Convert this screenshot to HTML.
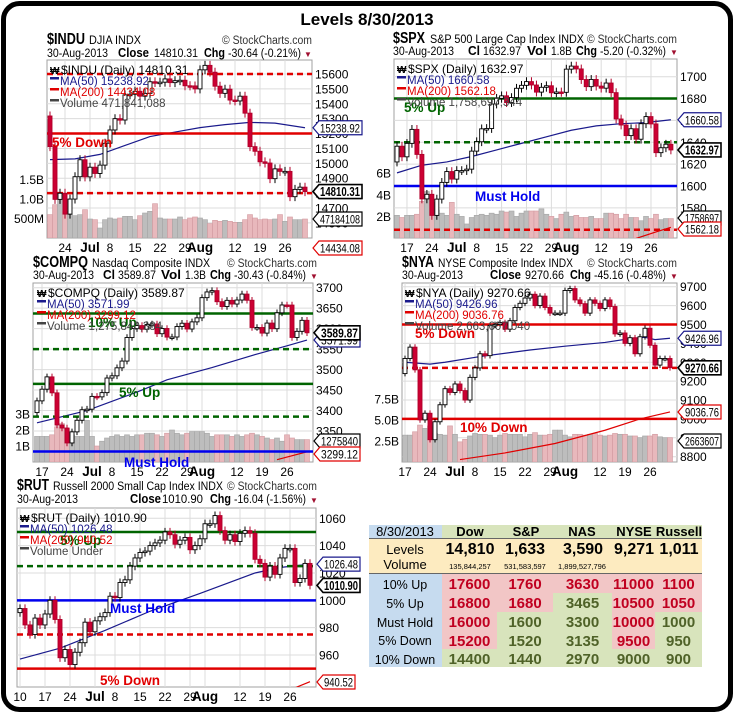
<!DOCTYPE html>
<html><head><meta charset="utf-8"><title>Levels 8/30/2013</title>
<style>
html,body{margin:0;padding:0;background:#fff;}
svg{display:block;font-family:"Liberation Sans",Arial,sans-serif;}
</style></head>
<body>
<svg id="chart" width="735" height="715" viewBox="0 0 735 715" xmlns="http://www.w3.org/2000/svg">
<rect x="3.5" y="3.5" width="727" height="706" rx="16" fill="#fff" stroke="#000" stroke-width="5"/>
<text x="367" y="25" font-size="17" font-weight="bold" text-anchor="middle">Levels 8/30/2013</text>

<!-- headers -->
<g font-size="11.5">
<text x="47" y="44" font-size="16" font-weight="bold" textLength="38" lengthAdjust="spacingAndGlyphs">$INDU</text>
<text x="89" y="44" textLength="52" lengthAdjust="spacingAndGlyphs">DJIA  INDX</text>
<text x="222" y="44" fill="#333" textLength="90" lengthAdjust="spacingAndGlyphs">© StockCharts.com</text>
<text x="47" y="57" textLength="61" lengthAdjust="spacingAndGlyphs">30-Aug-2013</text>
<text x="118" y="57" font-weight="bold" font-size="12.5" textLength="31" lengthAdjust="spacingAndGlyphs">Close</text>
<text x="154" y="57" textLength="44" lengthAdjust="spacingAndGlyphs">14810.31</text>
<text x="204" y="57" font-weight="bold" font-size="12.5" textLength="21" lengthAdjust="spacingAndGlyphs">Chg</text>
<text x="228" y="57" textLength="73" lengthAdjust="spacingAndGlyphs">-30.64 (-0.21%)</text>
<text x="304" y="57" fill="#a01030" font-size="8">▼</text>
</g>
<g font-size="11.5">
<text x="393" y="43" font-size="16" font-weight="bold" textLength="32" lengthAdjust="spacingAndGlyphs">$SPX</text>
<text x="430" y="43" textLength="154" lengthAdjust="spacingAndGlyphs">S&amp;P 500 Large Cap Index  INDX</text>
<text x="587" y="43" fill="#333" textLength="90" lengthAdjust="spacingAndGlyphs">© StockCharts.com</text>
<text x="393" y="55" textLength="61" lengthAdjust="spacingAndGlyphs">30-Aug-2013</text>
<text x="468" y="55" font-weight="bold" font-size="12.5" textLength="12" lengthAdjust="spacingAndGlyphs">Cl</text>
<text x="483" y="55" textLength="38" lengthAdjust="spacingAndGlyphs">1632.97</text>
<text x="527" y="55" font-weight="bold" font-size="12.5" textLength="20" lengthAdjust="spacingAndGlyphs">Vol</text>
<text x="551" y="55" textLength="21" lengthAdjust="spacingAndGlyphs">1.8B</text>
<text x="576" y="55" font-weight="bold" font-size="12.5" textLength="21" lengthAdjust="spacingAndGlyphs">Chg</text>
<text x="600" y="55" textLength="66" lengthAdjust="spacingAndGlyphs">-5.20 (-0.32%)</text>
<text x="670" y="55" fill="#a01030" font-size="8">▼</text>
</g>
<g font-size="11.5">
<text x="33" y="267" font-size="16" font-weight="bold" textLength="55" lengthAdjust="spacingAndGlyphs">$COMPQ</text>
<text x="92" y="267" textLength="118" lengthAdjust="spacingAndGlyphs">Nasdaq Composite  INDX</text>
<text x="227" y="267" fill="#333" textLength="90" lengthAdjust="spacingAndGlyphs">© StockCharts.com</text>
<text x="33" y="279" textLength="61" lengthAdjust="spacingAndGlyphs">30-Aug-2013</text>
<text x="103" y="279" font-weight="bold" font-size="12.5" textLength="12" lengthAdjust="spacingAndGlyphs">Cl</text>
<text x="118" y="279" textLength="38" lengthAdjust="spacingAndGlyphs">3589.87</text>
<text x="161" y="279" font-weight="bold" font-size="12.5" textLength="20" lengthAdjust="spacingAndGlyphs">Vol</text>
<text x="185" y="279" textLength="21" lengthAdjust="spacingAndGlyphs">1.3B</text>
<text x="210" y="279" font-weight="bold" font-size="12.5" textLength="21" lengthAdjust="spacingAndGlyphs">Chg</text>
<text x="234" y="279" textLength="72" lengthAdjust="spacingAndGlyphs">-30.43 (-0.84%)</text>
<text x="310" y="279" fill="#a01030" font-size="8">▼</text>
</g>
<g font-size="11.5">
<text x="402" y="267" font-size="16" font-weight="bold" textLength="32" lengthAdjust="spacingAndGlyphs">$NYA</text>
<text x="438" y="267" textLength="135" lengthAdjust="spacingAndGlyphs">NYSE Composite Index  INDX</text>
<text x="587" y="267" fill="#333" textLength="90" lengthAdjust="spacingAndGlyphs">© StockCharts.com</text>
<text x="402" y="279" textLength="61" lengthAdjust="spacingAndGlyphs">30-Aug-2013</text>
<text x="490" y="279" font-weight="bold" font-size="12.5" textLength="31" lengthAdjust="spacingAndGlyphs">Close</text>
<text x="525" y="279" textLength="39" lengthAdjust="spacingAndGlyphs">9270.66</text>
<text x="570" y="279" font-weight="bold" font-size="12.5" textLength="21" lengthAdjust="spacingAndGlyphs">Chg</text>
<text x="594" y="279" textLength="72" lengthAdjust="spacingAndGlyphs">-45.16 (-0.48%)</text>
<text x="670" y="279" fill="#a01030" font-size="8">▼</text>
</g>
<g font-size="11.5">
<text x="17" y="490" font-size="16" font-weight="bold" textLength="32" lengthAdjust="spacingAndGlyphs">$RUT</text>
<text x="53" y="490" textLength="170" lengthAdjust="spacingAndGlyphs">Russell 2000 Small Cap Index  INDX</text>
<text x="227" y="490" fill="#333" textLength="90" lengthAdjust="spacingAndGlyphs">© StockCharts.com</text>
<text x="17" y="503" textLength="61" lengthAdjust="spacingAndGlyphs">30-Aug-2013</text>
<text x="130" y="503" font-weight="bold" font-size="12.5" textLength="31" lengthAdjust="spacingAndGlyphs">Close</text>
<text x="162" y="503" textLength="41" lengthAdjust="spacingAndGlyphs">1010.90</text>
<text x="210" y="503" font-weight="bold" font-size="12.5" textLength="21" lengthAdjust="spacingAndGlyphs">Chg</text>
<text x="234" y="503" textLength="72" lengthAdjust="spacingAndGlyphs">-16.04 (-1.56%)</text>
<text x="310" y="503" fill="#a01030" font-size="8">▼</text>
</g>

<!-- levels table -->
<g font-weight="bold" text-anchor="middle">
<rect x="369" y="525" width="73" height="142" fill="#c6dbef"/>
<rect x="442" y="525" width="260" height="13" fill="#d8e4bc"/>
<rect x="369" y="539" width="333" height="34" fill="#fdebc0"/>
<rect x="369" y="573" width="73" height="94" fill="#c6dbef"/>
<line x1="369" y1="538.5" x2="702" y2="538.5" stroke="#666"/>
<line x1="369" y1="573.5" x2="702" y2="573.5" stroke="#666"/>
<g id="table-cells"></g>
<g font-size="13">
<text x="405" y="536" font-weight="normal">8/30/2013</text>
<text x="470" y="536">Dow</text><text x="526" y="536">S&amp;P</text><text x="582" y="536">NAS</text><text x="634" y="536">NYSE</text><text x="679" y="536">Russell</text>
<text x="405" y="554" font-size="13" font-weight="normal">Levels</text>
<text x="405" y="569" font-size="13" font-weight="normal">Volume</text>
</g>
<g font-size="16">
<text x="470" y="554">14,810</text><text x="525" y="554">1,633</text><text x="583" y="554">3,590</text><text x="634" y="554">9,271</text><text x="679" y="554">1,011</text>
</g>
<g font-size="7.5" font-weight="normal">
<text x="470" y="569">135,844,257</text><text x="525" y="569">531,583,597</text><text x="582" y="569">1,899,527,796</text>
</g>
<g font-size="12.5" font-weight="normal">
<text x="405" y="589">10% Up</text><text x="405" y="608">5% Up</text><text x="405" y="627">Must Hold</text><text x="405" y="645">5% Down</text><text x="405" y="664">10% Down</text>
</g>
</g>
</svg>
<script>
// ---------------- DATA ----------------
const induCloses=[15112,14758,14799,14659,14760,14910,15024,14909,14974,14932,14988,15135,15224,15300,15291,15460,15464,15484,15451,15470,15548,15543,15545,15567,15542,15555,15558,15521,15520,15500,15628,15658,15612,15518,15470,15498,15425,15419,15451,15337,15112,15081,15010,15002,14897,14963,14946,14946,14776,14825,14840,14810];
const induFirstOpen=15318;
const induVolumes=[600,855,983,684,600,573,600,727,487,470,256,470,513,487,513,556,556,470,573,641,684,880,513,487,487,487,539,470,513,539,513,470,368,453,427,453,427,402,402,470,600,513,470,487,470,487,600,427,539,470,470,487];
const induMa50Idx=[0,5,10,15,20,25,30,35,40,45,51];
const induMa50Val=[15025,15030,15060,15120,15180,15210,15240,15260,15275,15270,15239];
const induTicks=[15600,15500,15400,15300,15200,15100,15000,14900,14800,14700,14600];
const induDateIdx=[3,8,12,17,22,27,30,37,42,47];
const induDateLbl=["24","Jul","8","15","22","29","Aug","12","19","26"];

const spxCloses=[1636.4,1626.7,1639.0,1651.8,1628.9,1588.2,1592.4,1573.1,1588.0,1603.3,1613.2,1606.3,1614.1,1614.1,1615.4,1631.9,1640.5,1652.3,1652.6,1675.0,1680.2,1682.5,1676.3,1680.9,1689.4,1692.1,1695.5,1692.4,1685.9,1690.3,1691.7,1685.3,1686.0,1685.7,1706.9,1709.7,1707.1,1697.4,1690.9,1697.5,1691.4,1689.5,1694.2,1685.4,1661.3,1655.8,1646.1,1652.4,1642.8,1657.0,1663.5,1656.8,1630.5,1635.0,1638.2,1633.0];
const spxFirstOpen=1622;
const spxVolumes=[2.1,1.9,2.1,2.1,2.2,3.4,4.3,3.3,2.6,2.3,2.1,3.3,2.2,2.0,1.3,1.9,2.1,2.2,2.1,2.3,2.2,2.5,2.4,2.5,2.0,2.3,2.5,2.5,2.5,2.7,2.2,2.0,1.8,2.2,2.4,2.0,2.1,1.9,1.9,2.0,1.8,1.8,2.3,2.3,2.2,1.8,2.2,1.9,1.9,1.6,2.0,1.8,2.2,1.7,1.8,1.8];
const spxMa50Idx=[0,5,10,15,20,25,30,35,40,45,50,55];
const spxMa50Val=[1612,1619,1622,1627,1633,1639,1645,1651,1655,1657,1658,1660.6];
const spxMa200Idx=[48,52,55];
const spxMa200Val=[1552,1558,1562.2];
const spxTicks=[1700,1680,1660,1640,1620,1600,1580];
const spxDateIdx=[2,7,12,16,21,26,31,34,41,46,51];
const spxDateLbl=["17","24","Jul","8","15","22","29","Aug","12","19","26"];

const compqCloses=[3423.6,3452.1,3482.2,3443.2,3364.6,3357.3,3320.8,3347.9,3376.2,3401.9,3403.3,3434.5,3433.4,3443.7,3479.4,3484.8,3504.3,3520.8,3578.3,3600.1,3607.5,3598.5,3610.0,3611.3,3587.6,3600.4,3579.3,3579.6,3605.2,3613.2,3599.1,3616.5,3626.4,3675.7,3689.6,3692.9,3665.8,3654.0,3669.1,3660.1,3669.9,3684.4,3669.3,3602.8,3602.8,3589.1,3613.6,3599.8,3638.7,3657.8,3657.6,3578.5,3593.4,3620.3,3589.9];
const compqFirstOpen=3395;
const compqVolumes=[1.6,1.6,1.6,1.7,2.2,2.4,2.1,1.7,1.6,1.6,2.6,1.6,1.0,1.3,1.5,1.6,1.7,1.6,1.7,1.6,1.7,1.7,1.8,1.8,1.7,1.6,1.8,2.0,1.8,1.7,1.8,1.9,1.9,1.9,1.8,1.6,1.7,1.7,1.7,1.6,1.7,1.6,1.7,1.8,1.7,1.6,1.5,1.4,1.5,1.3,1.7,1.5,1.4,1.4,1.4];
const compqMa50Idx=[0,10,20,26,35,44,50,54];
const compqMa50Val=[3370,3400,3445,3475,3505,3538,3558,3572];
const compqMa200Idx=[48,54];
const compqMa200Val=[3280,3299.1];
const compqTicks=[3700,3650,3600,3550,3500,3450,3400,3350];
const compqDateIdx=[1,6,11,15,20,25,30,33,40,45,50];
const compqDateLbl=["17","24","Jul","8","15","22","29","Aug","12","19","26"];

const nyaCloses=[9320,9380,9260,8995,9030,8890,8985,9075,9160,9140,9185,9150,9100,9220,9270,9345,9335,9495,9500,9510,9475,9520,9590,9612,9640,9660,9600,9650,9590,9560,9560,9560,9680,9690,9630,9610,9560,9630,9612,9585,9630,9595,9450,9455,9400,9430,9345,9435,9480,9390,9285,9320,9320,9271];
const nyaFirstOpen=9240;
const nyaVolumes=[3.2,3.2,3.6,4.4,4.0,4.3,3.4,3.3,3.2,4.3,3.3,2.4,2.7,3.1,3.4,3.3,3.3,3.2,2.9,3.2,3.4,3.3,3.3,3.3,3.0,3.3,3.5,3.2,3.2,3.3,3.8,3.8,3.2,3.0,3.3,3.3,3.2,3.3,3.4,3.2,3.1,3.2,3.4,3.3,3.3,3.1,3.1,2.9,3.1,3.1,3.3,3.0,2.9,2.9];
const nyaMa50Idx=[0,5,8,15,25,32,40,45,48,50,53];
const nyaMa50Val=[9300,9290,9300,9330,9365,9385,9405,9425,9432,9420,9427];
const nyaMa200Idx=[11,20,30,40,47,53];
const nyaMa200Val=[8785,8820,8870,8940,9000,9037];
const nyaTicks=[9700,9600,9500,9400,9300,9200,9100,9000,8900,8800];
const nyaDateIdx=[0,5,10,14,19,24,29,32,39,44,49];
const nyaDateLbl=["17","24","Jul","8","15","22","29","Aug","12","19","26"];

const rutCloses=[994,982,975,987,982,990,1000,986,958,964,953,962,969,984,977,985,988,991,1003,1002,1013,1015,1025,1031,1035,1036,1040,1042,1044,1050,1048,1041,1044,1046,1037,1040,1045,1056,1056,1062,1051,1044,1048,1043,1049,1051,1049,1030,1027,1017,1025,1019,1031,1038,1038,1013,1016,1027,1011];
const rutFirstOpen=991;
const rutMa50Idx=[0,8,17,26,36,47,52,58];
const rutMa50Val=[957,965,978,992,1005,1020,1024,1026.5];
const rutMa200Idx=[55,58];
const rutMa200Val=[936,940.5];
const rutTicks=[1060,1040,1020,1000,980,960];
const rutDateIdx=[0,5,10,15,19,24,29,34,37,44,49,54];
const rutDateLbl=["10","17","24","Jul","8","15","22","29","Aug","12","19","26"];

const tableRowLevels=[
 ["17600","1760","3630","11000","1100"],
 ["16800","1680","3465","10500","1050"],
 ["16000","1600","3300","10000","1000"],
 ["15200","1520","3135","9500","950"],
 ["14400","1440","2970","9000","900"]];
const tableRowRed=[
 [1,1,1,1,1],[1,1,0,1,1],[1,0,0,1,0],[1,0,0,1,0],[0,0,0,0,0]];

// ---------------- DRAWING ----------------
const NS='http://www.w3.org/2000/svg';
const svg=document.getElementById('chart');
function mk(tag,attrs,parent){const e=document.createElementNS(NS,tag);for(const k in attrs)e.setAttribute(k,attrs[k]);(parent||svg).appendChild(e);return e;}
function linY(v1,p1,v2,p2){return v=>p1+(v-v1)*(p2-p1)/(v2-v1);}

function valueBox(g,x,y,w,txt,color,bold){
  const b=mk('polygon',{points:`${x},${y} ${x+6},${y-7} ${x+w},${y-7} ${x+w},${y+7} ${x+6},${y+7}`,fill:'#fff',stroke:color,'stroke-width':bold?1.6:1.2},g);
  
  
  const t=mk('text',{x:x+7,y:y+4.5,'font-size':bold?12.5:12,'font-weight':bold?'bold':'normal',fill:'#000',textLength:w-9,lengthAdjust:'spacingAndGlyphs'},g);
  
  
  t.textContent=txt;
}

function drawPanel(p){
  const g=mk('g',{});
  
  
  const y=linY(p.v1,p.p1,p.v2,p.p2);
  const x=i=>p.xs+i*p.step;
  const bg=mk('rect',{x:p.x0,y:p.y0,width:p.x1-p.x0,height:p.y1-p.y0,fill:'#fff',stroke:'#a0a0a0'},g);
  
  
  const cp=mk('clipPath',{id:'clip-'+p.name},g);
  mk('rect',{x:p.x0,y:p.y0,width:p.x1-p.x0,height:p.y1-p.y0},cp);
  const inner=mk('g',{'clip-path':`url(#clip-${p.name})`},g);
  p.ticks.forEach(t=>{
    const yy=y(t); if(yy<p.y0-2||yy>p.y1+6) return;
    const gl=mk('line',{x1:p.x0,x2:p.x1,y1:yy,y2:yy,stroke:'#dcdcdc'},inner);
    
    
    const tl=mk('text',{x:p.x1+3,y:yy+4.5,'font-size':12},g);
    
    
    tl.textContent=t;
  });
  p.dIdx.forEach((di,k)=>{
    const xx=x(di);
    const vl=mk('line',{x1:xx,x2:xx,y1:p.y0,y2:p.y1,stroke:'#dcdcdc'},inner);
    
    
    const lb=p.dLbl[k];
    const isM=(lb==='Jul'||lb==='Aug');
    const dl=mk('text',{x:xx,y:p.y1+14,'font-size':isM?13.5:12,'font-weight':isM?'bold':'normal','text-anchor':'middle'},g);
    
    
    dl.textContent=lb;
  });
  if(p.vols){
    p.vols.forEach((v,i)=>{
      const prev=i===0?p.firstOpen:p.closes[i-1];
      const down=p.closes[i]<prev;
      const h=v*p.vs;
      const r=mk('rect',{x:x(i)-2.5,y:p.y1-h,width:5,height:h,fill:down?'#e8b8bc':'#bdbdbd',stroke:down?'#d29aa0':'#a5a5a5','stroke-width':0.6},inner);
      
      
    });
    p.volAxis.forEach(a=>{
      const t=mk('text',{x:p.x0-3,y:p.y1-a[0]*p.vs+4.5,'font-size':12,'text-anchor':'end'},g);
      
      
      t.textContent=a[1];
    });
  }
  const maLine=(idx,val,col,nm)=>{
    const pts=idx.map((d,k)=>`${x(d)},${y(val[k])}`).join(' ');
    const l=mk('polyline',{points:pts,fill:'none',stroke:col,'stroke-width':1.2},inner);
    
    
  };
  if(p.ma50Idx) maLine(p.ma50Idx,p.ma50Val,'#1a1a8c','ma50-line');
  if(p.ma200Idx) maLine(p.ma200Idx,p.ma200Val,'#e00000','ma200-line');
  p.levels.forEach(L=>{
    const yy=y(L.v);
    const l=mk('line',{x1:p.x0,x2:p.x1,y1:yy,y2:yy,stroke:L.c,'stroke-width':2.5,'stroke-dasharray':L.d?'6,4':'none'},inner);
    
    
  });
  p.closes.forEach((c,i)=>{
    const o=i===0?p.firstOpen:p.closes[i-1];
    const hi=Math.max(o,c)+p.wk, lo=Math.min(o,c)-p.wk;
    const xx=x(i);
    const w=mk('line',{x1:xx,x2:xx,y1:y(hi),y2:y(lo),stroke:c<o?'#b0002a':'#000','stroke-width':1},inner);
    
    
    const top=Math.min(y(o),y(c)), h=Math.max(1.5,Math.abs(y(o)-y(c)));
    const b=mk('rect',{x:xx-2,y:top,width:4,height:h,fill:c<o?'#cc0033':'#fff',stroke:c<o?'#b0002a':'#000','stroke-width':0.9},inner);
    
    
  });
  p.levels.forEach(L=>{
    if(!L.t) return;
    const t=mk('text',{x:L.tx,y:L.ty,'font-size':13.5,'font-weight':'bold',fill:L.tc||L.c},g);
    
    
    t.textContent=L.t;
  });
  const lg=mk('g',{'font-size':11.5},g);
  
  
  p.legend.forEach((s,k)=>{
    const ly=p.y0+10+k*11;
    if(k>0){
      const sw=mk('rect',{x:p.lx,y:ly-4,width:9,height:2.5,fill:s[1]},lg);
      
      
    } else {
      const ic=mk('text',{x:p.lx,y:ly+4,'font-size':10,'font-weight':'bold'},lg);
      
      
      ic.textContent='₩';
    }
    const t=mk('text',{x:p.lx+(k>0?10:11),y:ly+4,fill:s[1],'font-size':k==0?12:11.5},lg);
    
    
    t.textContent=s[0];
  });
  p.boxes.forEach(bx=>{
    let yy=y(bx.v||0);
    if(bx.fy) yy=bx.fy;
    valueBox(g,p.x1+1,yy,bx.w||50,bx.t,bx.c,bx.b);
  });
}

drawPanel({name:'indu',x0:47,x1:312,y0:60,y1:238,xs:50,step:5,v1:15600,p1:74,v2:14700,p2:208,
  closes:induCloses,firstOpen:induFirstOpen,vols:induVolumes,vs:19.5/500,volAxis:[[1500,'1.5B'],[1000,'1.0B'],[500,'500M']],
  ma50Idx:induMa50Idx,ma50Val:induMa50Val,ticks:induTicks,dIdx:induDateIdx,dLbl:induDateLbl,wk:30,
  levels:[{v:15600,c:'#e00000',d:1},{v:15200,c:'#e00000',t:'5% Down',tx:52,ty:147},{v:14800,c:'#e00000',d:1}],
  lx:50,legend:[['$INDU (Daily) 14810.31','#000'],['MA(50) 15238.92','#1a1a8c'],['MA(200) 14434.08','#e00000'],['Volume 471,841,088','#444']],
  boxes:[{v:15238.92,t:'15238.92',c:'#1a1a8c',w:49},{v:14810.31,t:'14810.31',c:'#000',b:1,w:49},{fy:219,t:'47184108',c:'#000',w:49},{fy:248,t:'14434.08',c:'#e00000',w:49}]});

drawPanel({name:'spx',x0:394,x1:677,y0:59,y1:238,xs:397,step:4.98,v1:1700,p1:76.7,v2:1600,p2:186,
  closes:spxCloses,firstOpen:spxFirstOpen,vols:spxVolumes,vs:10.8,volAxis:[[6,'6B'],[4,'4B'],[2,'2B']],
  ma50Idx:spxMa50Idx,ma50Val:spxMa50Val,ma200Idx:spxMa200Idx,ma200Val:spxMa200Val,ticks:spxTicks,dIdx:spxDateIdx,dLbl:spxDateLbl,wk:4,
  levels:[{v:1680,c:'#006400',t:'5% Up',tx:404,ty:112},{v:1640,c:'#006400',d:1},{v:1600,c:'#0000ee',t:'Must Hold',tx:475,ty:201},{v:1560,c:'#e00000',d:1}],
  lx:397,legend:[['$SPX (Daily) 1632.97','#000'],['MA(50) 1660.58','#1a1a8c'],['MA(200) 1562.18','#e00000'],['Volume 1,758,697,344','#444']],
  boxes:[{v:1660.58,t:'1660.58',c:'#1a1a8c',w:43},{v:1632.97,t:'1632.97',c:'#000',b:1,w:43},{fy:218,t:'1758697',c:'#000',w:43},{fy:229,t:'1562.18',c:'#e00000',w:43}]});

drawPanel({name:'compq',x0:33,x1:313,y0:283,y1:462,xs:37,step:5,v1:3700,p1:287.7,v2:3350,p2:431,
  closes:compqCloses,firstOpen:compqFirstOpen,vols:compqVolumes,vs:16,volAxis:[[3,'3B'],[2,'2B'],[1,'1B']],
  ma50Idx:compqMa50Idx,ma50Val:compqMa50Val,ma200Idx:compqMa200Idx,ma200Val:compqMa200Val,ticks:compqTicks,dIdx:compqDateIdx,dLbl:compqDateLbl,wk:8,
  levels:[{v:3637,c:'#006400',t:'10% Up',tx:88,ty:327},{v:3550,c:'#006400',d:1},{v:3465,c:'#006400',t:'5% Up',tx:119,ty:397},{v:3385,c:'#006400',d:1},{v:3300,c:'#0000ee',t:'Must Hold',tx:124,ty:467}],
  lx:37,legend:[['$COMPQ (Daily) 3589.87','#000'],['MA(50) 3571.99','#1a1a8c'],['MA(200) 3299.12','#e00000'],['Volume 1,275,840,384','#444']],
  boxes:[{fy:340,t:'3571.99',c:'#1a1a8c',w:46},{v:3589.87,t:'3589.87',c:'#000',b:1,w:46},{fy:441,t:'1275840',c:'#000',w:46},{fy:454,t:'3299.12',c:'#e00000',w:46}]});

drawPanel({name:'nya',x0:402,x1:677,y0:283,y1:462,xs:405,step:5,v1:9700,p1:286.7,v2:8800,p2:456.7,
  closes:nyaCloses,firstOpen:nyaFirstOpen,vols:nyaVolumes,vs:8.4,volAxis:[[7.5,'7.5B'],[5,'5.0B'],[2.5,'2.5B']],
  ma50Idx:nyaMa50Idx,ma50Val:nyaMa50Val,ma200Idx:nyaMa200Idx,ma200Val:nyaMa200Val,ticks:nyaTicks,dIdx:nyaDateIdx,dLbl:nyaDateLbl,wk:15,
  levels:[{v:9500,c:'#e00000',t:'5% Down',tx:415,ty:338},{v:9270,c:'#e00000',d:1},{v:9000,c:'#e00000',t:'10% Down',tx:460,ty:432}],
  lx:405,legend:[['$NYA (Daily) 9270.66','#000'],['MA(50) 9426.96','#1a1a8c'],['MA(200) 9036.76','#e00000'],['Volume 2,663,607,040','#444']],
  boxes:[{v:9426.96,t:'9426.96',c:'#1a1a8c',w:43},{v:9270.66,t:'9270.66',c:'#000',b:1,w:43},{v:9036.76,t:'9036.76',c:'#e00000',w:43},{fy:441,t:'2663607',c:'#000',w:43}]});

drawPanel({name:'rut',x0:17,x1:316,y0:508,y1:687,xs:20,step:5,v1:1060,p1:518.3,v2:960,p2:655,
  closes:rutCloses,firstOpen:rutFirstOpen,
  ma50Idx:rutMa50Idx,ma50Val:rutMa50Val,ma200Idx:rutMa200Idx,ma200Val:rutMa200Val,ticks:rutTicks,dIdx:rutDateIdx,dLbl:rutDateLbl,wk:3,
  levels:[{v:1050,c:'#006400',t:'5% Up',tx:60,ty:545},{v:1025,c:'#006400',d:1},{v:1000,c:'#0000ee',t:'Must Hold',tx:110,ty:613},{v:975,c:'#e00000',d:1},{v:950,c:'#e00000',t:'5% Down',tx:100,ty:685}],
  lx:20,legend:[['$RUT (Daily) 1010.90','#000'],['MA(50) 1026.48','#1a1a8c'],['MA(200) 940.52','#e00000'],['Volume Under','#444']],
  boxes:[{v:1026.48,t:'1026.48',c:'#1a1a8c',w:43},{v:1010.90,t:'1010.90',c:'#000',b:1,w:43},{fy:682,t:'940.52',c:'#e00000',w:38}]});

const tc=document.getElementById('table-cells');
const colX=[442,497,553,612,655,702];
const rowY=[574,593,612,631,649,667];
tableRowLevels.forEach((row,r)=>{
  row.forEach((v,c)=>{
    const red=tableRowRed[r][c];
    const cell=mk('rect',{x:colX[c],y:rowY[r],width:colX[c+1]-colX[c],height:rowY[r+1]-rowY[r],fill:red?'#f2c6c6':'#d8e4bc'},tc);
    
    
    const t=mk('text',{x:(colX[c]+colX[c+1])/2,y:rowY[r]+15,'font-size':15,fill:red?'#c00020':'#4f6228'},tc);
    
    
    t.textContent=v;
  });
});
</script>
</body></html>
